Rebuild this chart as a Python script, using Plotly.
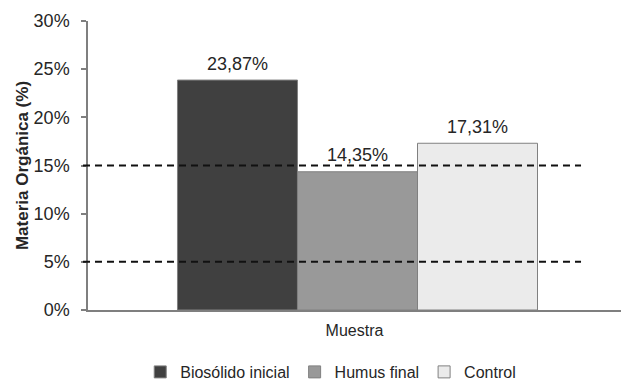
import plotly.graph_objects as go

# ---- data ----
category = ["Muestra"]
series_names = ["Biosólido inicial", "Humus final", "Control"]
series_values = [0.2387, 0.1435, 0.1731]
series_colors = ["#404040", "#999999", "#ebebeb"]
reference_levels = [0.15, 0.05]
y_ticks = [0, 0.05, 0.10, 0.15, 0.20, 0.25, 0.30]

FONT = "Liberation Sans, Arial, sans-serif"
TXT = "#262626"
AXIS = "#7f7f7f"

fig = go.Figure()
for name, val, col in zip(series_names, series_values, series_colors):
    fig.add_trace(go.Bar(
        x=category, y=[val], name=name, offsetgroup=name,
        marker=dict(color=col, line=dict(color="#808080", width=1)),
        hoverinfo="skip",
    ))
for name, val in zip(series_names, series_values):
    fig.add_trace(go.Scatter(
        x=category, y=[val], mode="markers+text", offsetgroup=name,
        text=[f"{val*100:.2f}%".replace(".", ",")], textposition="top center",
        textfont=dict(family=FONT, size=18, color=TXT),
        marker=dict(size=8, opacity=0), showlegend=False, hoverinfo="skip",
        cliponaxis=False,
    ))

for lvl in reference_levels:
    fig.add_shape(type="line", xref="paper", yref="y",
                  x0=-0.0094, x1=0.925, y0=lvl, y1=lvl,
                  line=dict(color="#111111", width=2, dash="7px,5px"))

fig.update_layout(
    width=621, height=381,
    margin=dict(l=88, r=0, t=21, b=71, autoexpand=False),
    paper_bgcolor="white", plot_bgcolor="white",
    barmode="group", bargap=0.332, scattermode="group",
    separators=",.",
    font=dict(family=FONT, color=TXT),
    showlegend=True,
    legend=dict(orientation="h", x=0.098, xanchor="left", y=-0.2145, yanchor="middle",
                font=dict(family=FONT, size=16, color=TXT), itemwidth=30,
                traceorder="normal"),
    xaxis=dict(
        type="category", range=[-0.5, 0.4889], showticklabels=False,
        showline=True, linecolor=AXIS, linewidth=1.5, ticks="",
        showgrid=False, zeroline=False,
        title=dict(text="Muestra", font=dict(family=FONT, size=16, color=TXT), standoff=14),
    ),
    yaxis=dict(
        range=[0, 0.3], tickvals=y_ticks, tickformat=".0%",
        showline=True, linecolor=AXIS, linewidth=1.5,
        ticks="outside", ticklen=5, tickcolor=AXIS, tickwidth=1.5,
        showgrid=False, zeroline=False, ticklabelstandoff=8,
        tickfont=dict(family=FONT, size=18, color=TXT),
        title=dict(text="<b>Materia Orgánica (%)</b>",
                   font=dict(family=FONT, size=17, color=TXT), standoff=1),
    ),
)

fig.write_html("out.html")
